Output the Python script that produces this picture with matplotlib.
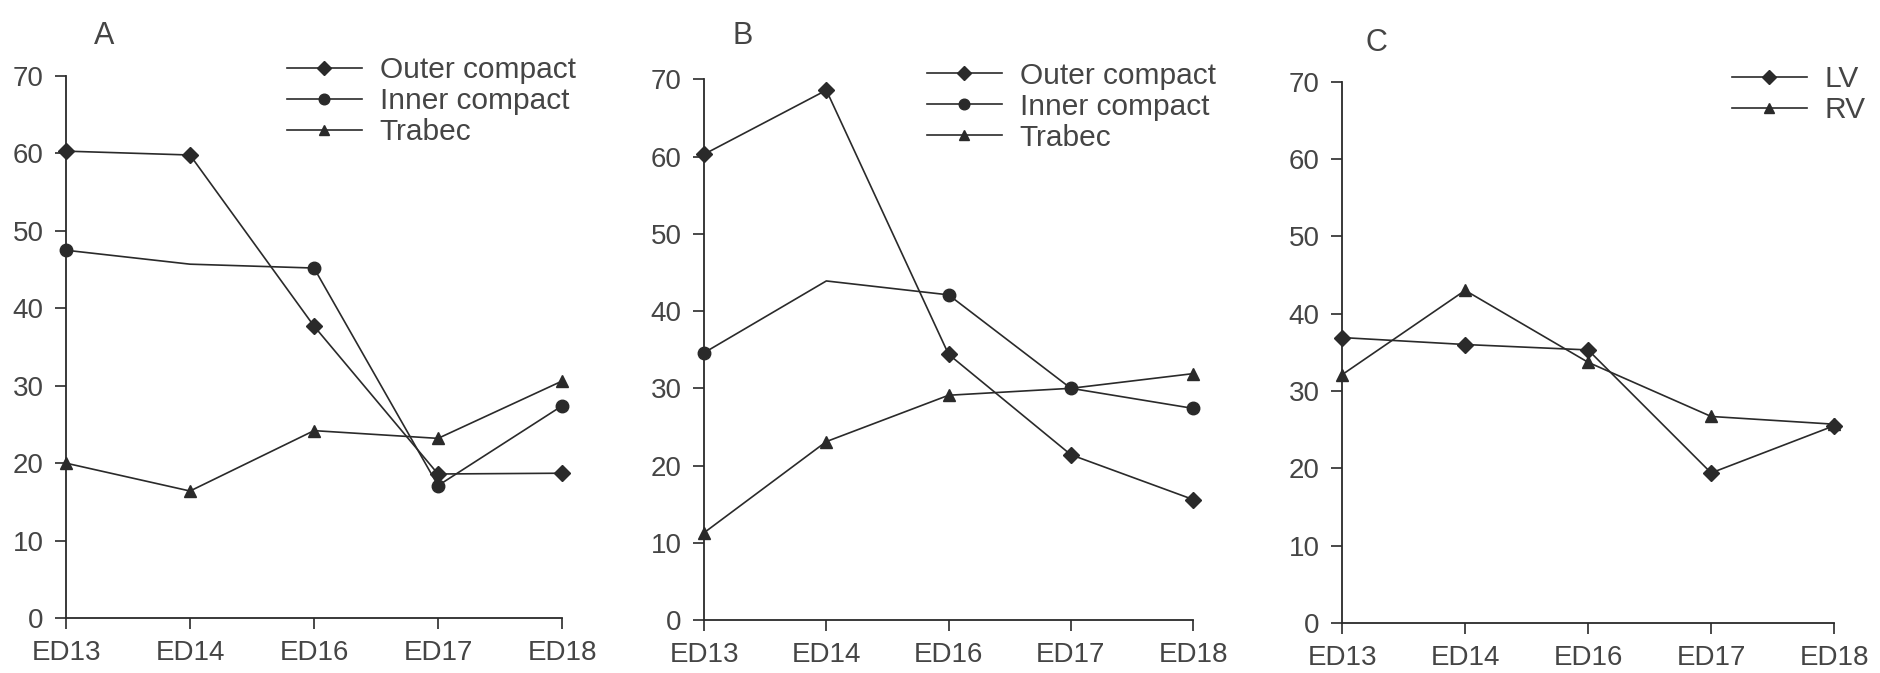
import matplotlib
matplotlib.use("Agg")
import matplotlib.pyplot as plt

plt.rcParams['font.family'] = ['Liberation Sans', 'DejaVu Sans']

stages = ["ED13", "ED14", "ED16", "ED17", "ED18"]

# panel A
a_outer = [60.3, 59.8, 37.7, 18.6, 18.7]
a_inner = [47.5, 45.7, 45.2, 17.1, 27.4]
a_trabec = [20.0, 16.4, 24.2, 23.2, 30.6]

# panel B
b_outer = [60.3, 68.6, 34.4, 21.4, 15.6]
b_inner = [34.6, 43.9, 42.1, 30.0, 27.4]
b_trabec = [11.3, 23.1, 29.1, 30.0, 31.9]

# panel C
c_lv = [36.9, 36.0, 35.3, 19.4, 25.5]
c_rv = [32.1, 43.0, 33.7, 26.7, 25.7]

line_col = '#2a2a2a'
text_col = '#454545'
fs = 20

fig = plt.figure(figsize=(18.81, 6.73), dpi=100)

def setup(ax, letter, lx, ly):
    ax.set_xlim(0, len(stages) - 1)
    ax.set_ylim(0, 70)
    ax.set_xticks(range(len(stages)))
    ax.set_xticklabels(stages)
    ax.set_yticks(range(0, 71, 10))
    for s in ['top', 'right']:
        ax.spines[s].set_visible(False)
    for s in ['left', 'bottom']:
        ax.spines[s].set_color(line_col)
        ax.spines[s].set_linewidth(1.3)
    ax.tick_params(direction='out', length=8, width=1.2, colors=line_col,
                   labelsize=fs, labelcolor=text_col, pad=8)
    fig.text(lx, ly, letter, fontsize=22, color=text_col, ha='center', va='center')

def plot(ax, x, y, marker, label, skip=None):
    # skip = point drawn without a marker in the original
    idx = [i for i in range(len(x)) if i != skip]
    ms = 8.5 if marker == 'D' else 9
    ax.plot(x, y, color=line_col, lw=1.2, marker=marker, markersize=ms,
            markevery=idx, label=label, clip_on=False, zorder=3)

x = list(range(len(stages)))

ax1 = fig.add_axes([0.03509, 0.08172, 0.2637, 0.8053])
setup(ax1, "A", 0.0553, 0.9465)
plot(ax1, x, a_outer, 'D', "Outer compact")
plot(ax1, x, a_inner, 'o', "Inner compact", skip=1)
plot(ax1, x, a_trabec, '^', "Trabec")

ax2 = fig.add_axes([0.3743, 0.07875, 0.2600, 0.8033])
setup(ax2, "B", 0.395, 0.9465)
plot(ax2, x, b_outer, 'D', "Outer compact")
plot(ax2, x, b_inner, 'o', "Inner compact", skip=1)
plot(ax2, x, b_trabec, '^', "Trabec", skip=3)

ax3 = fig.add_axes([0.7135, 0.07429, 0.2616, 0.8046])
setup(ax3, "C", 0.7315, 0.936)
plot(ax3, x, c_lv, 'D', "LV")
plot(ax3, x, c_rv, '^', "RV")

for ax, lx, ly in [(ax1, 0.1526, 0.9168), (ax2, 0.4928, 0.908), (ax3, 0.9208, 0.903)]:
    leg = ax.legend(loc='upper left', bbox_to_anchor=(lx, ly),
                    bbox_transform=fig.transFigure, frameon=False,
                    fontsize=21.5, handlelength=2.5, handletextpad=0.6,
                    labelspacing=0.1, borderpad=0, borderaxespad=0,
                    markerscale=0.85)
    for t in leg.get_texts():
        t.set_color(text_col)

fig.savefig("out.png", dpi=100)
